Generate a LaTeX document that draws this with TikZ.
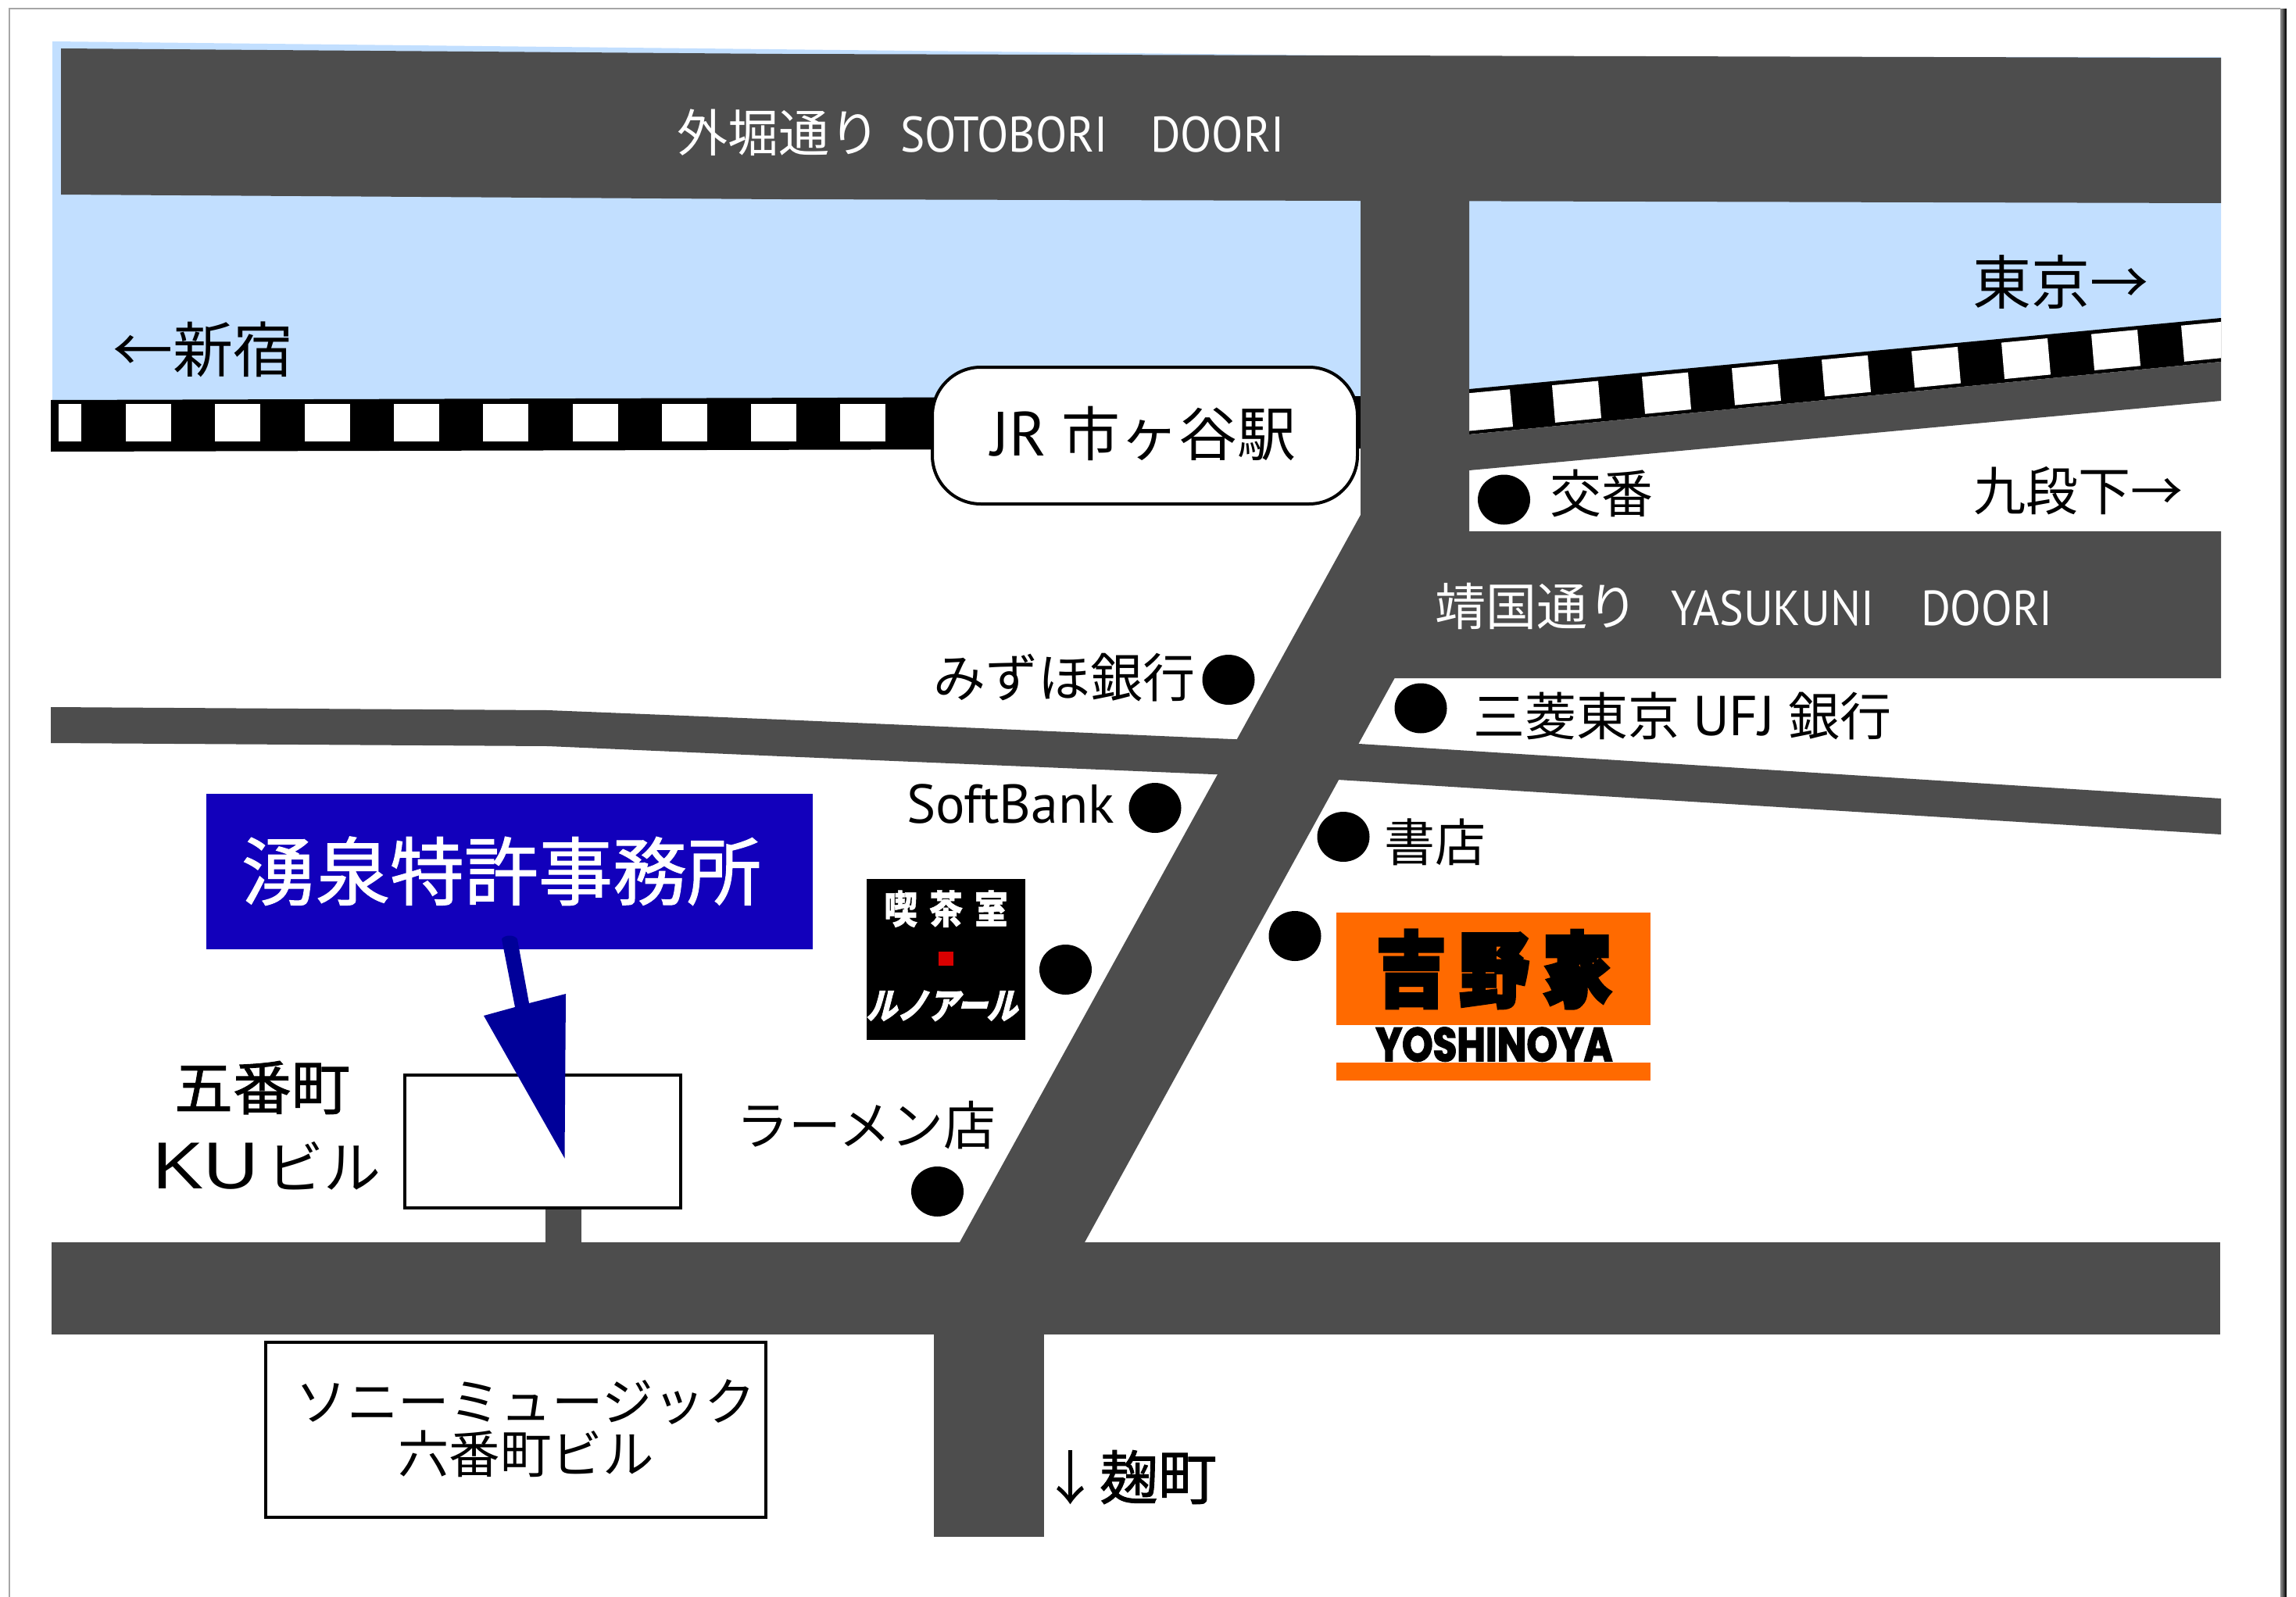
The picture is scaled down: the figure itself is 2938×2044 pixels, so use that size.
\documentclass[tikz,border=0pt]{standalone}
\usepackage{fontspec}
\usepackage{graphicx}
\newfontfamily\jp{Noto Sans CJK JP}
\newfontfamily\jpm[FakeBold=1.2]{Noto Sans CJK JP}
\newfontfamily\jph[BoldFeatures={FakeBold=5}]{Noto Sans CJK JP}
\newfontfamily\jpk[BoldFeatures={FakeBold=1}]{Noto Sans CJK JP}
\newfontfamily\jps[BoldFeatures={FakeBold=2,FakeSlant=0.3}]{Noto Sans CJK JP}
\newfontfamily\lat{PT Sans}
\newfontfamily\arial{Liberation Sans}
\newfontfamily\heavy[BoldFeatures={FakeBold=3}]{Poppins}
\newcommand{\fs}[1]{\fontsize{#1}{#1}\selectfont}
\newcommand{\nar}[1]{\scalebox{.92}[1]{#1}}
\definecolor{road}{HTML}{4D4D4D}
\definecolor{water}{HTML}{C2DFFF}
\definecolor{office}{HTML}{1200BB}
\definecolor{pointer}{HTML}{000099}
\definecolor{beef}{HTML}{FF6A00}
\tikzset{
  lab/.style={inner sep=0pt,outer sep=0pt,anchor=base west,text=black},
  rev/.style={lab,text=white},
  spot/.style={fill=black,draw=none,ellipse,minimum width=67pt,minimum height=64pt,inner sep=0pt},
  roadfill/.style={fill=road,draw=none},
  bld/.style={draw=black,line width=4pt,fill=white},
}
\usetikzlibrary{shapes.geometric}
\begin{document}
\begin{tikzpicture}[x=1pt,y=-1pt]
\useasboundingbox (0,0) rectangle (2938,2044);
\fill[white] (0,0) rectangle (2938,2044);
% water
\fill[water] (67,53) -- (1900,73) -- (2842,73) -- (2842,410) -- (1880,500) -- (1741,500) -- (1741,512) -- (67,512) -- cycle;
% left rail
\fill[black] (65,512) -- (1741,507) -- (1741,574) -- (65,578) -- cycle;
\fill[white] (75,517) rectangle (104,565);
\foreach \k in {0,...,8}{
  \pgfmathsetmacro{\xa}{161+114.3*\k}
  \pgfmathsetmacro{\xb}{\xa+58}
  \fill[white] (\xa,516.5) rectangle (\xb,564.5);
}
% right rail
\fill[black] (1880,498) -- (2842,407) -- (2842,463) -- (1880,556) -- cycle;
\begin{scope}
\clip (1880,400) rectangle (2842,600);
\foreach \xa/\xb in {1870/1932,1986/2045,2101/2160,2216/2275,2331/2390,2446/2505,2561/2620,2676/2735,2791/2860}{
  \pgfmathsetmacro{\ta}{498-(\xa-1882)*0.0949+5}
  \pgfmathsetmacro{\tb}{498-(\xb-1882)*0.0949+5}
  \pgfmathsetmacro{\ba}{556-(\xa-1882)*0.097-5}
  \pgfmathsetmacro{\bb}{556-(\xb-1882)*0.097-5}
  \fill[white] (\xa,\ta) -- (\xb,\tb) -- (\xb+4,\bb) -- (\xa+4,\ba) -- cycle;
}
\end{scope}
% roads
\fill[roadfill] (78,62) -- (1000,69) -- (2842,74) -- (2842,260) -- (1000,255) -- (78,249) -- cycle;
\fill[roadfill] (1741,200) -- (1880,200) -- (1880,680) -- (1784,869) -- (1382.5,1600) -- (1222.5,1600) -- (1741,659) -- cycle;
\fill[roadfill] (1880,556) -- (2842,463) -- (2842,513) -- (1880,602) -- cycle;
\fill[roadfill] (1800,680) -- (2842,680) -- (2842,868) -- (1784,868) -- cycle;
\fill[roadfill] (65,905) -- (701,909) -- (1000,921) -- (1600,947) -- (1600,993) -- (1000,968) -- (701,955) -- (65,951) -- cycle;
\fill[roadfill] (1700,951) -- (1739,952) -- (2842,1022) -- (2842,1068) -- (1712,998) -- (1680,996) -- cycle;
\fill[roadfill] (66,1590) rectangle (2841,1708);
\fill[roadfill] (1195,1700) rectangle (1336,1967);
\fill[roadfill] (698,1540) rectangle (744,1600);
% station
\node[draw=black,fill=white,line width=4pt,rounded corners=62pt,minimum width=544pt,minimum height=175pt,inner sep=0pt] (station) at (1465,557.5) {};
\node[lab,font=\jp\fs{75}] (stationlabel) at (1268,583.5) {\makebox[90pt][l]{\lat\fs{80}JR}市ヶ谷駅};
% road labels
\node[rev,font=\jp\fs{65}] (sotobori) at (866,195) {\makebox[286pt][l]{外堀通り}\makebox[320pt][l]{\lat\fs{64}\nar{SOTOBORI}}{\lat\fs{64}\nar{DOORI}}};
\node[rev,font=\jp\fs{65}] (yasukuni) at (1836,800) {\makebox[302pt][l]{靖国通り}\makebox[320pt][l]{\lat\fs{63}\nar{YASUKUNI}}{\lat\fs{63}\nar{DOORI}}};
% directions
\node[lab,font=\jp\fs{77}] (shinjuku) at (144,476) {←新宿};
\node[lab,font=\jp\fs{75}] (tokyo) at (2524,389) {東京→};
\node[lab,font=\jp\fs{67}] (kudan) at (2525,653) {九段下→};
\node[lab,font=\jpm\fs{75}] (koji) at (1332,1919) {{\jp↓}麹町};
% spots
\node[spot] (d1) at (1924.5,639.5) {};
\node[lab,font=\jp\fs{66}] (koban) at (1983,656) {交番};
\node[spot] (d2) at (1572,870) {};
\node[lab,font=\jp\fs{67}] (mizuho) at (1194,892) {みずほ銀行};
\node[spot] (d3) at (1818,906.5) {};
\node[lab,font=\jp\fs{66}] (mufg) at (1885,941) {\makebox[281pt][l]{三菱東京}\makebox[122pt][l]{\lat\fs{72}UFJ}銀行};
\node[spot] (d4) at (1478,1034) {};
\node[lab,font=\lat\fs{70}] (softbank) at (1160,1053) {SoftBank};
\node[spot] (d5) at (1719,1071) {};
\node[lab,font=\jp\fs{65}] (shoten) at (1771,1102) {書店};
\node[spot] (d6) at (1657,1198) {};
\node[spot] (d7) at (1363.5,1241) {};
\node[spot] (d8) at (1199.5,1525) {};
\node[lab,font=\jp\fs{67}] (ramen) at (942,1465) {ラーメン店};
% Renoir sign
\node[fill=black,minimum width=203pt,minimum height=206pt,inner sep=0pt] (renoir) at (1210.5,1228) {};
\node[rev,font=\jpk\bfseries\fs{50},anchor=base] (kissa) at (1210.5,1182) {\scalebox{.85}[1]{\makebox[68pt][c]{喫}\makebox[68pt][c]{茶}\makebox[68pt][c]{室}}};
\fill[red!85!black] (1200.5,1218) rectangle (1220,1236);
\node[rev,font=\jps\bfseries\fs{46},anchor=base] (renoirname) at (1205,1304) {\scalebox{.85}[1]{ルノアール}};
% Yoshinoya sign
\fill[beef] (1710,1168) rectangle (2112,1312);
\fill[beef] (1710,1360) rectangle (2112,1383);
\node[lab,font=\jph\bfseries\fs{104},anchor=base] (yoshi) at (1912,1280) {\scalebox{.85}[1]{\makebox[125pt][c]{吉}\makebox[125pt][c]{野}\makebox[125pt][c]{家}}};
\node[lab,font=\heavy\bfseries,anchor=base] (yoshien) at (1912,1358) {\resizebox{303pt}{43pt}{YOSHINOYA}};
% buildings
\node[bld,minimum width=353pt,minimum height=170pt,inner sep=0pt] (ku) at (694,1460.5) {};
\node[lab,font=\jpm\fs{75}] (gobancho) at (223,1420) {五番町};
\node[lab,font=\jp\fs{73}] (kulabel) at (195,1521) {\makebox[146pt][l]{\arial\fs{85}\scalebox{1.15}[1]{KU}}ビル};
\node[bld,minimum width=640pt,minimum height=224pt,inner sep=0pt] (sony) at (660,1830) {};
\node[lab,font=\jp\fs{65.5},align=center,anchor=center] (sonylabel) at (673,1828) {ソニーミュージック\\[1pt]六番町ビル};
% office
\node[fill=office,minimum width=775.5pt,minimum height=199pt,inner sep=0pt] (office) at (652.2,1115.5) {};
\node[rev,font=\jpm\fs{95}] (officelabel) at (309,1151) {湧泉特許事務所};
\coordinate (tip) at (722.5,1482.5);
\fill[pointer] (642,1202) .. controls (645,1196) and (659,1196) .. (662,1202) -- (677,1284) -- (724,1272) -- (tip) -- (619,1300) -- (659,1289) -- cycle;
% page frame
\draw[black!35,line width=2pt] (11.5,2044) -- (11.5,11) -- (2918,11);
\foreach \o/\c in {0/50,2/60,4/78,6/92}{
  \draw[black!\c,line width=2pt] ({2919+\o},11) -- ({2919+\o},2044);
}
\end{tikzpicture}
\end{document}
